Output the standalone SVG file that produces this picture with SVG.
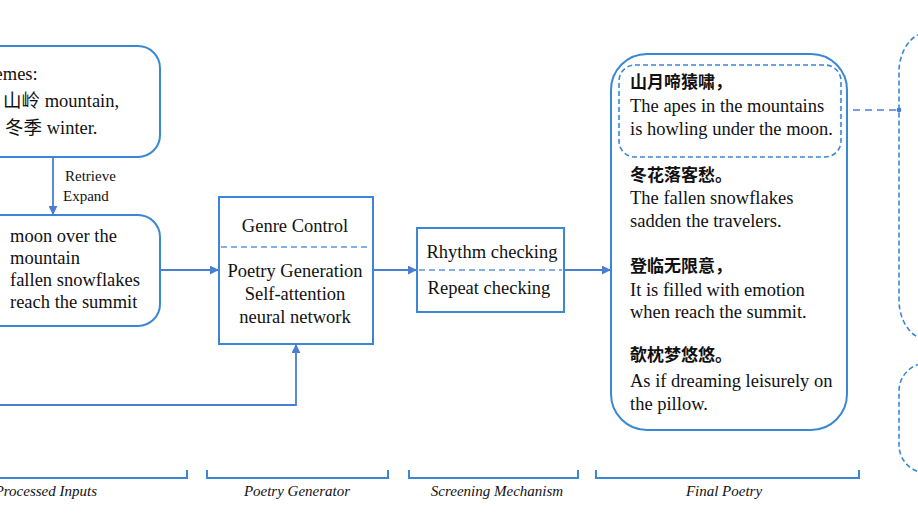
<svg xmlns="http://www.w3.org/2000/svg" width="918" height="517" viewBox="0 0 918 517">
<style>
.box{fill:#fff;stroke:#3A87D6;stroke-width:2}
.dbox{fill:none;stroke:#3A87D6;stroke-width:1.6;stroke-dasharray:5 3}
.sep{stroke:#5B95DC;stroke-width:1.5;stroke-dasharray:6 4}
.con{fill:none;stroke:#4A7ED2;stroke-width:1.8}
.dcon{fill:none;stroke:#4A7ED2;stroke-width:1.5;stroke-dasharray:7 5}
.br{fill:none;stroke:#3A87D6;stroke-width:2}
text{font-family:"Liberation Serif","Noto Sans CJK SC",serif;fill:#111}
.t{font-size:18.5px}
.m{font-size:18.5px}
.s{font-size:15px}
.c{font-size:17px;font-weight:bold}
.lab{font-size:15px;font-style:italic}
</style>
<defs>
<marker id="arr" viewBox="0 0 10 10" refX="9" refY="5" markerWidth="5" markerHeight="5" orient="auto"><path d="M0,0 L10,5 L0,10 z" fill="#4A7ED2"/></marker>
<marker id="dot" viewBox="0 0 10 10" refX="5" refY="5" markerWidth="4" markerHeight="4"><circle cx="5" cy="5" r="4" fill="#4A7ED2"/></marker>
</defs>

<g id="connectors">
<path class="con" d="M53,157 V214" marker-end="url(#arr)"/>
<path class="con" d="M160,270 H218" marker-end="url(#arr)"/>
<path class="con" d="M373,270 H416" marker-end="url(#arr)"/>
<path class="con" d="M564,270 H610" marker-end="url(#arr)"/>
<path class="con" d="M0,405 H296 V345" marker-end="url(#arr)"/>
<path class="dcon" d="M841,110 H899" marker-start="url(#dot)" marker-end="url(#dot)"/>
<text class="s" x="65" y="181">Retrieve</text>
<text class="s" x="63" y="201">Expand</text>
</g>

<g id="themes">
<rect class="box" x="-30" y="46" width="190" height="111" rx="22"/>
<text class="t" x="-26" y="80">Themes:</text>
<text class="t" x="3" y="107">山岭 mountain,</text>
<text class="t" x="5" y="134">冬季 winter.</text>
</g>

<g id="inputs">
<rect class="box" x="-30" y="215" width="190" height="111" rx="22"/>
<text class="t" x="10" y="242">moon over the</text>
<text class="t" x="10" y="264">mountain</text>
<text class="t" x="10" y="286">fallen snowflakes</text>
<text class="t" x="10" y="308">reach the summit</text>
</g>

<g id="generator">
<rect class="box" x="219" y="197" width="154" height="147"/>
<line class="sep" x1="221" y1="247" x2="371" y2="247"/>
<text class="m" x="295" y="232" text-anchor="middle">Genre Control</text>
<text class="m" x="295" y="277" text-anchor="middle">Poetry Generation</text>
<text class="m" x="295" y="300" text-anchor="middle">Self-attention</text>
<text class="m" x="295" y="323" text-anchor="middle">neural network</text>
</g>

<g id="screening">
<rect class="box" x="417" y="228" width="147" height="84"/>
<line class="sep" x1="419" y1="270" x2="562" y2="270"/>
<text class="m" x="492" y="258" text-anchor="middle">Rhythm checking</text>
<text class="m" x="489" y="294" text-anchor="middle">Repeat checking</text>
</g>

<g id="final">
<rect class="box" x="611" y="54" width="236" height="376" rx="36"/>
<rect class="dbox" x="619" y="65" width="222" height="92" rx="16"/>
<text class="c" x="630" y="88">山月啼猿啸，</text>
<text class="t" x="630" y="112">The apes in the mountains</text>
<text class="t" x="630" y="135">is howling under the moon.</text>
<text class="c" x="630" y="181">冬花落客愁。</text>
<text class="t" x="630" y="204">The fallen snowflakes</text>
<text class="t" x="630" y="227">sadden the travelers.</text>
<text class="c" x="630" y="272">登临无限意，</text>
<text class="t" x="630" y="296">It is filled with emotion</text>
<text class="t" x="630" y="318">when reach the summit.</text>
<text class="c" x="630" y="361">欹枕梦悠悠。</text>
<text class="t" x="630" y="387">As if dreaming leisurely on</text>
<text class="t" x="630" y="410">the pillow.</text>
</g>

<g id="right1">
<rect class="dbox" x="899" y="32" width="60" height="308" rx="40"/>
</g>
<g id="right2">
<rect class="dbox" x="899" y="363" width="60" height="110" rx="28"/>
</g>

<g id="brackets">
<path class="br" d="M-5,478 H187 V470"/>
<path class="br" d="M207,470 V478 H388 V470"/>
<path class="br" d="M409,470 V478 H578 V470"/>
<path class="br" d="M596,470 V478 H859 V470"/>
<text class="lab" x="97" y="496" text-anchor="end">Processed Inputs</text>
<text class="lab" x="297" y="496" text-anchor="middle">Poetry Generator</text>
<text class="lab" x="497" y="496" text-anchor="middle">Screening Mechanism</text>
<text class="lab" x="724" y="496" text-anchor="middle">Final Poetry</text>
</g>
</svg>
